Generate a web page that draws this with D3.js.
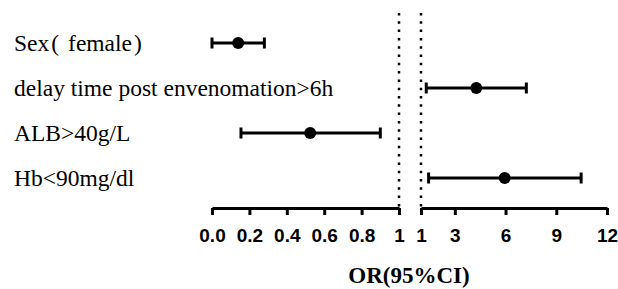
<!DOCTYPE html>
<html>
<head>
<meta charset="utf-8">
<script src="https://cdn.jsdelivr.net/npm/d3@7"></script>
<style>
  body { margin: 0; background: #fff; }
  svg { display: block; }
</style>
</head>
<body>
<svg width="618" height="289"></svg>
<script>
// data
var labels = ["Sex( female)", "delay time post envenomation>6h", "ALB>40g/L", "Hb<90mg/dl"];
var orValue = [0.14, 4.27, 0.525, 5.95];
var ciLower = [0.0, 1.31, 0.155, 1.45];
var ciUpper = [0.28, 7.23, 0.90, 10.47];
var leftTicks = [0, 0.2, 0.4, 0.6, 0.8, 1];
var rightTicks = [1, 3, 6, 9, 12];

var svg = d3.select("svg");
var axisY = 208;

var xL = d3.scaleLinear().domain([0, 1]).range([212, 399]);
var xR = d3.scaleLinear().domain([1, 12]).range([421, 607]);
var y = d3.scalePoint().domain(labels).range([43, 178]);

function xFor(i) {
  return orValue[i] < 1 ? xL : xR;
}

// dotted reference lines at OR = 1
[xL(1), xR(1)].forEach(function(px) {
  svg.append("line")
    .attr("x1", px).attr("x2", px)
    .attr("y1", 13).attr("y2", axisY)
    .attr("stroke", "#000")
    .attr("stroke-width", 2.5)
    .attr("stroke-dasharray", "2.5,5.8");
});

// row labels (the paren gets a little extra room, like the wide brackets in the original)
svg.append("g").selectAll("text")
  .data(labels)
  .join("text")
  .attr("x", 14)
  .attr("y", function(d) { return y(d) + 7.5; })
  .attr("font-family", "'Liberation Serif', 'Times New Roman', serif")
  .attr("font-size", 23.5)
  .attr("fill", "#000")
  .each(function(d) {
    var t = d3.select(this);
    var parts = d.split("( ");
    if (parts.length === 1) { t.text(d); return; }
    t.append("tspan").text(parts[0]);
    t.append("tspan").attr("dx", 2).text("(");
    t.append("tspan").attr("dx", 9).text(parts[1].replace(")", ""));
    t.append("tspan").attr("dx", 2).text(")");
  });

// error bars
var rows = svg.append("g").selectAll("g")
  .data(labels)
  .join("g");

rows.append("line")
  .attr("x1", function(d, i) { return xFor(i)(ciLower[i]); })
  .attr("x2", function(d, i) { return xFor(i)(ciUpper[i]); })
  .attr("y1", function(d) { return y(d); })
  .attr("y2", function(d) { return y(d); })
  .attr("stroke", "#000")
  .attr("stroke-width", 3);

[ciLower, ciUpper].forEach(function(arr) {
  rows.append("line")
    .attr("x1", function(d, i) { return xFor(i)(arr[i]); })
    .attr("x2", function(d, i) { return xFor(i)(arr[i]); })
    .attr("y1", function(d) { return y(d) - 5.5; })
    .attr("y2", function(d) { return y(d) + 5.5; })
    .attr("stroke", "#000")
    .attr("stroke-width", 3);
});

rows.append("circle")
  .attr("cx", function(d, i) { return xFor(i)(orValue[i]); })
  .attr("cy", function(d) { return y(d); })
  .attr("r", 6)
  .attr("fill", "#000");

// broken x axis
function drawAxis(scale, ticks, fmt) {
  var g = svg.append("g")
    .attr("transform", "translate(0," + axisY + ")")
    .call(d3.axisBottom(scale)
      .tickValues(ticks)
      .tickFormat(fmt)
      .tickSize(7)
      .tickSizeOuter(0)
      .tickPadding(14));
  g.select(".domain").attr("stroke-width", 3);
  g.selectAll(".tick line").attr("stroke-width", 3);
  g.selectAll(".tick text")
    .attr("font-family", "'Liberation Sans', Arial, sans-serif")
    .attr("font-weight", "bold")
    .attr("font-size", 19)
    .attr("fill", "#000");
}

drawAxis(xL, leftTicks, function(d) { return d === 1 ? "1" : d3.format(".1f")(d); });
drawAxis(xR, rightTicks, d3.format("d"));

svg.append("text")
  .attr("x", 409)
  .attr("y", 283)
  .attr("text-anchor", "middle")
  .attr("font-family", "'Liberation Serif', 'Times New Roman', serif")
  .attr("font-weight", "bold")
  .attr("font-size", 23)
  .attr("fill", "#000")
  .text("OR(95%CI)");
</script>
</body>
</html>
